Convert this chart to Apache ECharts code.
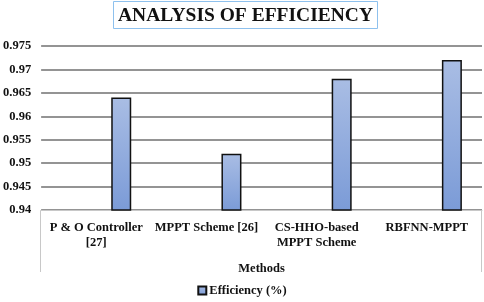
<!DOCTYPE html>
<html>
<head>
<meta charset="utf-8">
<script src="https://cdn.jsdelivr.net/npm/echarts@6/dist/echarts.min.js"></script>
<style>
  html, body { margin: 0; padding: 0; background: #fff; }
  #chart { width: 484px; height: 302px; }
</style>
</head>
<body>
<div id="chart"></div>
<script>
const methods = ["P & O Controller\n[27]", "MPPT Scheme [26]", "CS-HHO-based\nMPPT Scheme", "RBFNN-MPPT"];
const efficiency = [0.964, 0.952, 0.968, 0.972];
const yMin = 0.94;
const yMax = 0.975;
const yStep = 0.005;

const font = "Liberation Serif";
const chart = echarts.init(document.getElementById("chart"));

chart.setOption({
  animation: false,
  backgroundColor: "#fff",
  textStyle: { fontFamily: font },
  title: {
    text: "ANALYSIS OF EFFICIENCY",
    left: 113,
    top: 1,
    padding: [5, 5, 3, 5],
    borderColor: "#8ec1ee",
    borderWidth: 1,
    textStyle: { fontFamily: font, fontSize: 19.5, fontWeight: "bold", color: "#111" },
  },
  grid: { left: 40, right: 2, top: 46, bottom: 92 },
  legend: {
    data: ["Efficiency (%)"],
    bottom: 0,
    left: "center",
    icon: "rect",
    itemWidth: 8,
    itemHeight: 8,
    itemGap: 4,
    textStyle: { fontFamily: font, fontSize: 12.5, fontWeight: "bold", color: "#111", padding: [0, 0, 0, -2] },
  },
  xAxis: {
    type: "category",
    data: methods,
    name: "Methods",
    nameLocation: "middle",
    nameGap: 52,
    nameTextStyle: { fontFamily: font, fontSize: 12.5, fontWeight: "bold", color: "#111" },
    axisLine: { lineStyle: { color: "#c8c8c8", width: 1 } },
    axisTick: { show: false },
    axisLabel: {
      interval: 0,
      margin: 10,
      lineHeight: 15,
      fontFamily: font,
      fontSize: 12.5,
      fontWeight: "bold",
      color: "#111",
    },
  },
  yAxis: {
    type: "value",
    min: yMin,
    max: yMax,
    interval: yStep,
    axisLine: { show: false },
    axisTick: { show: false },
    axisLabel: {
      margin: 10,
      fontFamily: font,
      fontSize: 12.5,
      fontWeight: "bold",
      color: "#111",
      formatter: (v) => String(parseFloat(v.toFixed(3))),
    },
    splitLine: { lineStyle: { color: "#707070", width: 1.5 } },
  },
  series: [
    {
      name: "spacer",
      type: "bar",
      data: efficiency.map(() => null),
      barWidth: 20,
      barGap: "150%",
    },
    {
      name: "Efficiency (%)",
      type: "bar",
      data: efficiency,
      barWidth: 20,
      barGap: "150%",
      itemStyle: {
        borderColor: "#111",
        borderWidth: 1.5,
        color: {
          type: "linear", x: 0, y: 0, x2: 0, y2: 1,
          colorStops: [
            { offset: 0, color: "#a9bde4" },
            { offset: 1, color: "#7b9bd7" },
          ],
        },
      },
    },
  ],
  graphic: [
    {
      type: "polyline",
      shape: { points: [[40.5, 272], [40.5, 210.5], [481.5, 210.5], [481.5, 272]] },
      style: { stroke: "#c8c8c8", lineWidth: 1, fill: null },
    },
  ],
});
</script>
</body>
</html>
